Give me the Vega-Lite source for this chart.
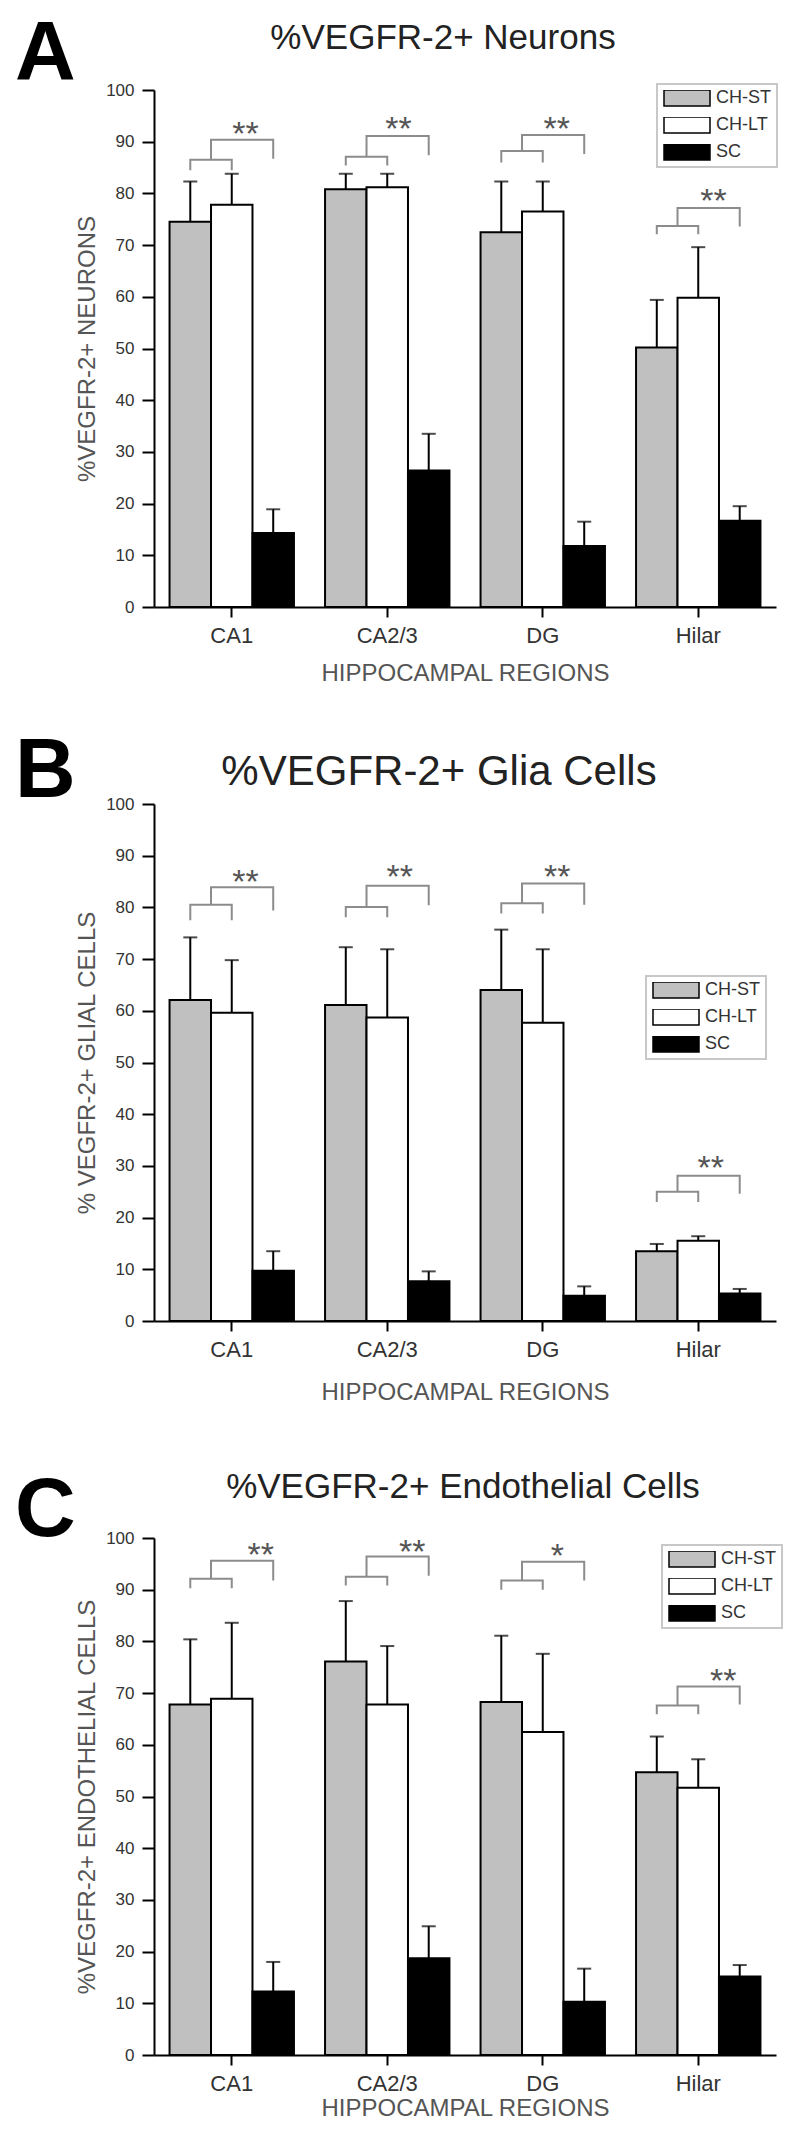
{
  "$schema": "https://vega.github.io/schema/vega-lite/v6.json",
  "background": "white",
  "padding": {"left": 14, "top": 13, "right": 5, "bottom": 5},
  "config": {
    "font": "Liberation Sans",
    "view": {"stroke": null},
    "axis": {"domainColor": "#000", "domainWidth": 2, "tickColor": "#000", "tickWidth": 2, "labelColor": "#333", "titleColor": "#555", "titleFontWeight": "normal", "grid": false},
    "legend": {"strokeColor": "#c8c8c8", "strokeWidth": 2, "padding": 6},
    "title": {"fontWeight": "normal", "color": "#222"}
  },
  "datasets": {
    "bars": [
      {"panel": "A", "region": "CA1", "group": "CH-ST", "value": 74.5, "err": 82.3},
      {"panel": "A", "region": "CA1", "group": "CH-LT", "value": 77.8, "err": 83.8},
      {"panel": "A", "region": "CA1", "group": "SC", "value": 14.3, "err": 18.9},
      {"panel": "A", "region": "CA2/3", "group": "CH-ST", "value": 80.8, "err": 83.8},
      {"panel": "A", "region": "CA2/3", "group": "CH-LT", "value": 81.2, "err": 83.8},
      {"panel": "A", "region": "CA2/3", "group": "SC", "value": 26.4, "err": 33.5},
      {"panel": "A", "region": "DG", "group": "CH-ST", "value": 72.5, "err": 82.3},
      {"panel": "A", "region": "DG", "group": "CH-LT", "value": 76.5, "err": 82.3},
      {"panel": "A", "region": "DG", "group": "SC", "value": 11.8, "err": 16.5},
      {"panel": "A", "region": "Hilar", "group": "CH-ST", "value": 50.2, "err": 59.4},
      {"panel": "A", "region": "Hilar", "group": "CH-LT", "value": 59.8, "err": 69.6},
      {"panel": "A", "region": "Hilar", "group": "SC", "value": 16.7, "err": 19.5},
      {"panel": "B", "region": "CA1", "group": "CH-ST", "value": 62.1, "err": 74.2},
      {"panel": "B", "region": "CA1", "group": "CH-LT", "value": 59.6, "err": 69.8},
      {"panel": "B", "region": "CA1", "group": "SC", "value": 9.7, "err": 13.5},
      {"panel": "B", "region": "CA2/3", "group": "CH-ST", "value": 61.1, "err": 72.3},
      {"panel": "B", "region": "CA2/3", "group": "CH-LT", "value": 58.7, "err": 71.9},
      {"panel": "B", "region": "CA2/3", "group": "SC", "value": 7.7, "err": 9.6},
      {"panel": "B", "region": "DG", "group": "CH-ST", "value": 64.0, "err": 75.7},
      {"panel": "B", "region": "DG", "group": "CH-LT", "value": 57.7, "err": 71.9},
      {"panel": "B", "region": "DG", "group": "SC", "value": 4.9, "err": 6.7},
      {"panel": "B", "region": "Hilar", "group": "CH-ST", "value": 13.5, "err": 14.9},
      {"panel": "B", "region": "Hilar", "group": "CH-LT", "value": 15.5, "err": 16.4},
      {"panel": "B", "region": "Hilar", "group": "SC", "value": 5.3, "err": 6.2},
      {"panel": "C", "region": "CA1", "group": "CH-ST", "value": 67.8, "err": 80.4},
      {"panel": "C", "region": "CA1", "group": "CH-LT", "value": 68.9, "err": 83.6},
      {"panel": "C", "region": "CA1", "group": "SC", "value": 12.3, "err": 18.0},
      {"panel": "C", "region": "CA2/3", "group": "CH-ST", "value": 76.1, "err": 87.8},
      {"panel": "C", "region": "CA2/3", "group": "CH-LT", "value": 67.8, "err": 79.1},
      {"panel": "C", "region": "CA2/3", "group": "SC", "value": 18.7, "err": 24.9},
      {"panel": "C", "region": "DG", "group": "CH-ST", "value": 68.3, "err": 81.1},
      {"panel": "C", "region": "DG", "group": "CH-LT", "value": 62.5, "err": 77.6},
      {"panel": "C", "region": "DG", "group": "SC", "value": 10.3, "err": 16.7},
      {"panel": "C", "region": "Hilar", "group": "CH-ST", "value": 54.7, "err": 61.6},
      {"panel": "C", "region": "Hilar", "group": "CH-LT", "value": 51.7, "err": 57.2},
      {"panel": "C", "region": "Hilar", "group": "SC", "value": 15.2, "err": 17.4}
    ],
    "brackets": [
      {"panel": "A", "region": "CA1", "part": "s", "ord": 1, "slot": 0.5, "y": 84.5},
      {"panel": "A", "region": "CA1", "part": "s", "ord": 2, "slot": 0.5, "y": 86.5},
      {"panel": "A", "region": "CA1", "part": "s", "ord": 3, "slot": 1.5, "y": 86.5},
      {"panel": "A", "region": "CA1", "part": "s", "ord": 4, "slot": 1.5, "y": 84.5},
      {"panel": "A", "region": "CA1", "part": "b", "ord": 1, "slot": 1.0, "y": 86.5},
      {"panel": "A", "region": "CA1", "part": "b", "ord": 2, "slot": 1.0, "y": 90.4},
      {"panel": "A", "region": "CA1", "part": "b", "ord": 3, "slot": 2.5, "y": 90.4},
      {"panel": "A", "region": "CA1", "part": "b", "ord": 4, "slot": 2.5, "y": 86.7},
      {"panel": "A", "region": "CA2/3", "part": "s", "ord": 1, "slot": 0.5, "y": 85.4},
      {"panel": "A", "region": "CA2/3", "part": "s", "ord": 2, "slot": 0.5, "y": 87.1},
      {"panel": "A", "region": "CA2/3", "part": "s", "ord": 3, "slot": 1.5, "y": 87.1},
      {"panel": "A", "region": "CA2/3", "part": "s", "ord": 4, "slot": 1.5, "y": 85.4},
      {"panel": "A", "region": "CA2/3", "part": "b", "ord": 1, "slot": 1.0, "y": 87.1},
      {"panel": "A", "region": "CA2/3", "part": "b", "ord": 2, "slot": 1.0, "y": 91.1},
      {"panel": "A", "region": "CA2/3", "part": "b", "ord": 3, "slot": 2.5, "y": 91.1},
      {"panel": "A", "region": "CA2/3", "part": "b", "ord": 4, "slot": 2.5, "y": 87.4},
      {"panel": "A", "region": "DG", "part": "s", "ord": 1, "slot": 0.5, "y": 86.0},
      {"panel": "A", "region": "DG", "part": "s", "ord": 2, "slot": 0.5, "y": 88.2},
      {"panel": "A", "region": "DG", "part": "s", "ord": 3, "slot": 1.5, "y": 88.2},
      {"panel": "A", "region": "DG", "part": "s", "ord": 4, "slot": 1.5, "y": 86.0},
      {"panel": "A", "region": "DG", "part": "b", "ord": 1, "slot": 1.0, "y": 88.2},
      {"panel": "A", "region": "DG", "part": "b", "ord": 2, "slot": 1.0, "y": 91.3},
      {"panel": "A", "region": "DG", "part": "b", "ord": 3, "slot": 2.5, "y": 91.3},
      {"panel": "A", "region": "DG", "part": "b", "ord": 4, "slot": 2.5, "y": 87.6},
      {"panel": "A", "region": "Hilar", "part": "s", "ord": 1, "slot": 0.5, "y": 72.1},
      {"panel": "A", "region": "Hilar", "part": "s", "ord": 2, "slot": 0.5, "y": 73.7},
      {"panel": "A", "region": "Hilar", "part": "s", "ord": 3, "slot": 1.5, "y": 73.7},
      {"panel": "A", "region": "Hilar", "part": "s", "ord": 4, "slot": 1.5, "y": 72.1},
      {"panel": "A", "region": "Hilar", "part": "b", "ord": 1, "slot": 1.0, "y": 73.7},
      {"panel": "A", "region": "Hilar", "part": "b", "ord": 2, "slot": 1.0, "y": 77.2},
      {"panel": "A", "region": "Hilar", "part": "b", "ord": 3, "slot": 2.5, "y": 77.2},
      {"panel": "A", "region": "Hilar", "part": "b", "ord": 4, "slot": 2.5, "y": 73.6},
      {"panel": "B", "region": "CA1", "part": "s", "ord": 1, "slot": 0.5, "y": 77.5},
      {"panel": "B", "region": "CA1", "part": "s", "ord": 2, "slot": 0.5, "y": 80.5},
      {"panel": "B", "region": "CA1", "part": "s", "ord": 3, "slot": 1.5, "y": 80.5},
      {"panel": "B", "region": "CA1", "part": "s", "ord": 4, "slot": 1.5, "y": 77.5},
      {"panel": "B", "region": "CA1", "part": "b", "ord": 1, "slot": 1.0, "y": 80.5},
      {"panel": "B", "region": "CA1", "part": "b", "ord": 2, "slot": 1.0, "y": 83.9},
      {"panel": "B", "region": "CA1", "part": "b", "ord": 3, "slot": 2.5, "y": 83.9},
      {"panel": "B", "region": "CA1", "part": "b", "ord": 4, "slot": 2.5, "y": 79.4},
      {"panel": "B", "region": "CA2/3", "part": "s", "ord": 1, "slot": 0.5, "y": 78.1},
      {"panel": "B", "region": "CA2/3", "part": "s", "ord": 2, "slot": 0.5, "y": 80.1},
      {"panel": "B", "region": "CA2/3", "part": "s", "ord": 3, "slot": 1.5, "y": 80.1},
      {"panel": "B", "region": "CA2/3", "part": "s", "ord": 4, "slot": 1.5, "y": 78.1},
      {"panel": "B", "region": "CA2/3", "part": "b", "ord": 1, "slot": 1.0, "y": 80.1},
      {"panel": "B", "region": "CA2/3", "part": "b", "ord": 2, "slot": 1.0, "y": 84.2},
      {"panel": "B", "region": "CA2/3", "part": "b", "ord": 3, "slot": 2.5, "y": 84.2},
      {"panel": "B", "region": "CA2/3", "part": "b", "ord": 4, "slot": 2.5, "y": 80.4},
      {"panel": "B", "region": "DG", "part": "s", "ord": 1, "slot": 0.5, "y": 78.8},
      {"panel": "B", "region": "DG", "part": "s", "ord": 2, "slot": 0.5, "y": 80.8},
      {"panel": "B", "region": "DG", "part": "s", "ord": 3, "slot": 1.5, "y": 80.8},
      {"panel": "B", "region": "DG", "part": "s", "ord": 4, "slot": 1.5, "y": 78.8},
      {"panel": "B", "region": "DG", "part": "b", "ord": 1, "slot": 1.0, "y": 80.8},
      {"panel": "B", "region": "DG", "part": "b", "ord": 2, "slot": 1.0, "y": 84.6},
      {"panel": "B", "region": "DG", "part": "b", "ord": 3, "slot": 2.5, "y": 84.6},
      {"panel": "B", "region": "DG", "part": "b", "ord": 4, "slot": 2.5, "y": 80.5},
      {"panel": "B", "region": "Hilar", "part": "s", "ord": 1, "slot": 0.5, "y": 23.0},
      {"panel": "B", "region": "Hilar", "part": "s", "ord": 2, "slot": 0.5, "y": 25.0},
      {"panel": "B", "region": "Hilar", "part": "s", "ord": 3, "slot": 1.5, "y": 25.0},
      {"panel": "B", "region": "Hilar", "part": "s", "ord": 4, "slot": 1.5, "y": 23.0},
      {"panel": "B", "region": "Hilar", "part": "b", "ord": 1, "slot": 1.0, "y": 25.0},
      {"panel": "B", "region": "Hilar", "part": "b", "ord": 2, "slot": 1.0, "y": 28.1},
      {"panel": "B", "region": "Hilar", "part": "b", "ord": 3, "slot": 2.5, "y": 28.1},
      {"panel": "B", "region": "Hilar", "part": "b", "ord": 4, "slot": 2.5, "y": 24.6},
      {"panel": "C", "region": "CA1", "part": "s", "ord": 1, "slot": 0.5, "y": 90.3},
      {"panel": "C", "region": "CA1", "part": "s", "ord": 2, "slot": 0.5, "y": 92.1},
      {"panel": "C", "region": "CA1", "part": "s", "ord": 3, "slot": 1.5, "y": 92.1},
      {"panel": "C", "region": "CA1", "part": "s", "ord": 4, "slot": 1.5, "y": 90.3},
      {"panel": "C", "region": "CA1", "part": "b", "ord": 1, "slot": 1.0, "y": 92.1},
      {"panel": "C", "region": "CA1", "part": "b", "ord": 2, "slot": 1.0, "y": 95.6},
      {"panel": "C", "region": "CA1", "part": "b", "ord": 3, "slot": 2.5, "y": 95.6},
      {"panel": "C", "region": "CA1", "part": "b", "ord": 4, "slot": 2.5, "y": 91.8},
      {"panel": "C", "region": "CA2/3", "part": "s", "ord": 1, "slot": 0.5, "y": 90.8},
      {"panel": "C", "region": "CA2/3", "part": "s", "ord": 2, "slot": 0.5, "y": 92.5},
      {"panel": "C", "region": "CA2/3", "part": "s", "ord": 3, "slot": 1.5, "y": 92.5},
      {"panel": "C", "region": "CA2/3", "part": "s", "ord": 4, "slot": 1.5, "y": 90.8},
      {"panel": "C", "region": "CA2/3", "part": "b", "ord": 1, "slot": 1.0, "y": 92.5},
      {"panel": "C", "region": "CA2/3", "part": "b", "ord": 2, "slot": 1.0, "y": 96.4},
      {"panel": "C", "region": "CA2/3", "part": "b", "ord": 3, "slot": 2.5, "y": 96.4},
      {"panel": "C", "region": "CA2/3", "part": "b", "ord": 4, "slot": 2.5, "y": 92.7},
      {"panel": "C", "region": "DG", "part": "s", "ord": 1, "slot": 0.5, "y": 90.0},
      {"panel": "C", "region": "DG", "part": "s", "ord": 2, "slot": 0.5, "y": 91.8},
      {"panel": "C", "region": "DG", "part": "s", "ord": 3, "slot": 1.5, "y": 91.8},
      {"panel": "C", "region": "DG", "part": "s", "ord": 4, "slot": 1.5, "y": 90.0},
      {"panel": "C", "region": "DG", "part": "b", "ord": 1, "slot": 1.0, "y": 91.8},
      {"panel": "C", "region": "DG", "part": "b", "ord": 2, "slot": 1.0, "y": 95.4},
      {"panel": "C", "region": "DG", "part": "b", "ord": 3, "slot": 2.5, "y": 95.4},
      {"panel": "C", "region": "DG", "part": "b", "ord": 4, "slot": 2.5, "y": 91.8},
      {"panel": "C", "region": "Hilar", "part": "s", "ord": 1, "slot": 0.5, "y": 65.9},
      {"panel": "C", "region": "Hilar", "part": "s", "ord": 2, "slot": 0.5, "y": 67.6},
      {"panel": "C", "region": "Hilar", "part": "s", "ord": 3, "slot": 1.5, "y": 67.6},
      {"panel": "C", "region": "Hilar", "part": "s", "ord": 4, "slot": 1.5, "y": 65.9},
      {"panel": "C", "region": "Hilar", "part": "b", "ord": 1, "slot": 1.0, "y": 67.6},
      {"panel": "C", "region": "Hilar", "part": "b", "ord": 2, "slot": 1.0, "y": 71.3},
      {"panel": "C", "region": "Hilar", "part": "b", "ord": 3, "slot": 2.5, "y": 71.3},
      {"panel": "C", "region": "Hilar", "part": "b", "ord": 4, "slot": 2.5, "y": 67.8}
    ],
    "stars": [
      {"panel": "A", "region": "CA1", "slot": 1.83, "y": 93.3, "label": "**"},
      {"panel": "A", "region": "CA2/3", "slot": 1.77, "y": 94.2, "label": "**"},
      {"panel": "A", "region": "DG", "slot": 1.84, "y": 94.2, "label": "**"},
      {"panel": "A", "region": "Hilar", "slot": 1.87, "y": 80.2, "label": "**"},
      {"panel": "B", "region": "CA1", "slot": 1.83, "y": 86.7, "label": "**"},
      {"panel": "B", "region": "CA2/3", "slot": 1.8, "y": 87.6, "label": "**"},
      {"panel": "B", "region": "DG", "slot": 1.85, "y": 87.6, "label": "**"},
      {"panel": "B", "region": "Hilar", "slot": 1.8, "y": 31.4, "label": "**"},
      {"panel": "C", "region": "CA1", "slot": 2.2, "y": 98.5, "label": "**"},
      {"panel": "C", "region": "CA2/3", "slot": 2.1, "y": 99.0, "label": "**"},
      {"panel": "C", "region": "DG", "slot": 1.85, "y": 98.3, "label": "*"},
      {"panel": "C", "region": "Hilar", "slot": 2.1, "y": 74.0, "label": "**"}
    ]
  },
  "spacing": 45,
  "resolve": {"scale": {"fill": "independent"}, "legend": {"fill": "independent"}},
  "vconcat": [
    {
      "title": {"text": "A", "orient": "left", "anchor": "end", "angle": 0, "align": "left", "baseline": "top", "dy": -7, "fontSize": 84, "fontWeight": "bold", "color": "#000", "offset": 0},
      "vconcat": [
        {
          "width": 622, "height": 517,
          "title": {"text": "%VEGFR-2+ Neurons", "fontSize": 35, "frame": "group", "anchor": "middle", "baseline": "alphabetic", "offset": -3, "dx": -22},
          "resolve": {"scale": {"xOffset": "independent"}},
          "layer": [
            {
              "data": {"name": "bars"},
              "transform": [{"filter": "datum.panel === 'A'"}],
              "mark": {"type": "bar", "stroke": "#000", "strokeWidth": 2},
              "encoding": {
                "x": {"field": "region", "type": "nominal", "sort": ["CA1", "CA2/3", "DG", "Hilar"], "scale": {"paddingInner": 0.2, "paddingOuter": 0.1}, "title": "HIPPOCAMPAL REGIONS", "axis": {"labelAngle": 0, "labelFontSize": 22, "titleFontSize": 24, "tickSize": 10, "labelPadding": 8, "titlePadding": 15}},
                "xOffset": {"field": "group", "type": "nominal", "sort": ["CH-ST", "CH-LT", "SC"], "scale": {"paddingInner": 0, "paddingOuter": 0}},
                "y": {"field": "value", "type": "quantitative", "scale": {"domain": [0, 100], "nice": false}, "title": "%VEGFR-2+ NEURONS", "axis": {"values": [0,5,10,15,20,25,30,35,40,45,50,55,60,65,70,75,80,85,90,95,100], "labelExpr": "datum.value % 10 === 0 ? datum.label : ''", "tickSize": {"condition": {"test": "datum.value % 10 !== 0", "value": 6}, "value": 12}, "labelFontSize": 17, "labelPadding": 8, "titleFontSize": 24, "titlePadding": 6}},
                "fill": {"field": "group", "type": "nominal", "scale": {"domain": ["CH-ST", "CH-LT", "SC"], "range": ["#c0c0c0", "#ffffff", "#000000"]}, "legend": {"title": null, "orient": "none", "legendX": 503, "legendY": -6, "symbolType": "M-1,-0.35H1V0.35H-1Z", "symbolSize": 2116, "symbolStrokeColor": "#000", "symbolStrokeWidth": 1.5, "symbolOpacity": 1, "clipHeight": 16, "rowPadding": 9, "labelFontSize": 18, "labelColor": "#333", "labelOffset": 5}}
              }
            },
            {
              "data": {"name": "bars"},
              "transform": [{"filter": "datum.panel === 'A'"}],
              "mark": {"type": "rule", "color": "#000", "strokeWidth": 2},
              "encoding": {
                "x": {"field": "region", "type": "nominal", "sort": ["CA1", "CA2/3", "DG", "Hilar"]},
                "xOffset": {"field": "group", "type": "nominal", "sort": ["CH-ST", "CH-LT", "SC"], "scale": {"paddingInner": 0, "paddingOuter": 0}},
                "y": {"field": "value", "type": "quantitative"},
                "y2": {"field": "err"}
              }
            },
            {
              "data": {"name": "bars"},
              "transform": [{"filter": "datum.panel === 'A'"}],
              "mark": {"type": "tick", "color": "#000", "thickness": 2, "size": 14, "orient": "horizontal"},
              "encoding": {
                "x": {"field": "region", "type": "nominal", "sort": ["CA1", "CA2/3", "DG", "Hilar"]},
                "xOffset": {"field": "group", "type": "nominal", "sort": ["CH-ST", "CH-LT", "SC"], "scale": {"paddingInner": 0, "paddingOuter": 0}},
                "y": {"field": "err", "type": "quantitative"}
              }
            },
            {
              "data": {"name": "brackets"},
              "transform": [{"filter": "datum.panel === 'A'"}],
              "mark": {"type": "line", "color": "#8c8c8c", "strokeWidth": 2},
              "encoding": {
                "x": {"field": "region", "type": "nominal", "sort": ["CA1", "CA2/3", "DG", "Hilar"]},
                "xOffset": {"field": "slot", "type": "quantitative", "scale": {"domain": [0, 3], "zero": false, "nice": false}},
                "y": {"field": "y", "type": "quantitative"},
                "detail": [{"field": "region"}, {"field": "part"}],
                "order": {"field": "ord", "type": "quantitative"}
              }
            },
            {
              "data": {"name": "stars"},
              "transform": [{"filter": "datum.panel === 'A'"}],
              "mark": {"type": "text", "fontSize": 34, "color": "#555", "baseline": "middle", "dy": 10},
              "encoding": {
                "x": {"field": "region", "type": "nominal", "sort": ["CA1", "CA2/3", "DG", "Hilar"]},
                "xOffset": {"field": "slot", "type": "quantitative", "scale": {"domain": [0, 3], "zero": false, "nice": false}},
                "y": {"field": "y", "type": "quantitative"},
                "text": {"field": "label"}
              }
            }
          ]
        }
      ]
    },
    {
      "title": {"text": "B", "orient": "left", "anchor": "end", "angle": 0, "align": "left", "baseline": "top", "dy": -20, "fontSize": 84, "fontWeight": "bold", "color": "#000", "offset": 0},
      "vconcat": [
        {
          "width": 622, "height": 517,
          "title": {"text": "%VEGFR-2+ Glia Cells", "fontSize": 42, "frame": "group", "anchor": "middle", "baseline": "alphabetic", "offset": -32, "dx": -26},
          "resolve": {"scale": {"xOffset": "independent"}},
          "layer": [
            {
              "data": {"name": "bars"},
              "transform": [{"filter": "datum.panel === 'B'"}],
              "mark": {"type": "bar", "stroke": "#000", "strokeWidth": 2},
              "encoding": {
                "x": {"field": "region", "type": "nominal", "sort": ["CA1", "CA2/3", "DG", "Hilar"], "scale": {"paddingInner": 0.2, "paddingOuter": 0.1}, "title": "HIPPOCAMPAL REGIONS", "axis": {"labelAngle": 0, "labelFontSize": 22, "titleFontSize": 24, "tickSize": 10, "labelPadding": 8, "titlePadding": 20}},
                "xOffset": {"field": "group", "type": "nominal", "sort": ["CH-ST", "CH-LT", "SC"], "scale": {"paddingInner": 0, "paddingOuter": 0}},
                "y": {"field": "value", "type": "quantitative", "scale": {"domain": [0, 100], "nice": false}, "title": "% VEGFR-2+ GLIAL CELLS", "axis": {"values": [0,5,10,15,20,25,30,35,40,45,50,55,60,65,70,75,80,85,90,95,100], "labelExpr": "datum.value % 10 === 0 ? datum.label : ''", "tickSize": {"condition": {"test": "datum.value % 10 !== 0", "value": 6}, "value": 12}, "labelFontSize": 17, "labelPadding": 8, "titleFontSize": 24, "titlePadding": 6}},
                "fill": {"field": "group", "type": "nominal", "scale": {"domain": ["CH-ST", "CH-LT", "SC"], "range": ["#c0c0c0", "#ffffff", "#000000"]}, "legend": {"title": null, "orient": "none", "legendX": 492, "legendY": 172, "symbolType": "M-1,-0.35H1V0.35H-1Z", "symbolSize": 2116, "symbolStrokeColor": "#000", "symbolStrokeWidth": 1.5, "symbolOpacity": 1, "clipHeight": 16, "rowPadding": 9, "labelFontSize": 18, "labelColor": "#333", "labelOffset": 5}}
              }
            },
            {
              "data": {"name": "bars"},
              "transform": [{"filter": "datum.panel === 'B'"}],
              "mark": {"type": "rule", "color": "#000", "strokeWidth": 2},
              "encoding": {
                "x": {"field": "region", "type": "nominal", "sort": ["CA1", "CA2/3", "DG", "Hilar"]},
                "xOffset": {"field": "group", "type": "nominal", "sort": ["CH-ST", "CH-LT", "SC"], "scale": {"paddingInner": 0, "paddingOuter": 0}},
                "y": {"field": "value", "type": "quantitative"},
                "y2": {"field": "err"}
              }
            },
            {
              "data": {"name": "bars"},
              "transform": [{"filter": "datum.panel === 'B'"}],
              "mark": {"type": "tick", "color": "#000", "thickness": 2, "size": 14, "orient": "horizontal"},
              "encoding": {
                "x": {"field": "region", "type": "nominal", "sort": ["CA1", "CA2/3", "DG", "Hilar"]},
                "xOffset": {"field": "group", "type": "nominal", "sort": ["CH-ST", "CH-LT", "SC"], "scale": {"paddingInner": 0, "paddingOuter": 0}},
                "y": {"field": "err", "type": "quantitative"}
              }
            },
            {
              "data": {"name": "brackets"},
              "transform": [{"filter": "datum.panel === 'B'"}],
              "mark": {"type": "line", "color": "#8c8c8c", "strokeWidth": 2},
              "encoding": {
                "x": {"field": "region", "type": "nominal", "sort": ["CA1", "CA2/3", "DG", "Hilar"]},
                "xOffset": {"field": "slot", "type": "quantitative", "scale": {"domain": [0, 3], "zero": false, "nice": false}},
                "y": {"field": "y", "type": "quantitative"},
                "detail": [{"field": "region"}, {"field": "part"}],
                "order": {"field": "ord", "type": "quantitative"}
              }
            },
            {
              "data": {"name": "stars"},
              "transform": [{"filter": "datum.panel === 'B'"}],
              "mark": {"type": "text", "fontSize": 34, "color": "#555", "baseline": "middle", "dy": 10},
              "encoding": {
                "x": {"field": "region", "type": "nominal", "sort": ["CA1", "CA2/3", "DG", "Hilar"]},
                "xOffset": {"field": "slot", "type": "quantitative", "scale": {"domain": [0, 3], "zero": false, "nice": false}},
                "y": {"field": "y", "type": "quantitative"},
                "text": {"field": "label"}
              }
            }
          ]
        }
      ]
    },
    {
      "title": {"text": ["", "C"], "lineHeight": 20, "orient": "left", "anchor": "end", "angle": 0, "align": "left", "baseline": "top", "dy": -20, "fontSize": 84, "fontWeight": "bold", "color": "#000", "offset": 0},
      "vconcat": [
        {
          "width": 622, "height": 517,
          "title": {"text": "%VEGFR-2+ Endothelial Cells", "fontSize": 35, "frame": "group", "anchor": "middle", "baseline": "alphabetic", "offset": -4, "dx": -2},
          "resolve": {"scale": {"xOffset": "independent"}},
          "layer": [
            {
              "data": {"name": "bars"},
              "transform": [{"filter": "datum.panel === 'C'"}],
              "mark": {"type": "bar", "stroke": "#000", "strokeWidth": 2},
              "encoding": {
                "x": {"field": "region", "type": "nominal", "sort": ["CA1", "CA2/3", "DG", "Hilar"], "scale": {"paddingInner": 0.2, "paddingOuter": 0.1}, "title": "HIPPOCAMPAL REGIONS", "axis": {"labelAngle": 0, "labelFontSize": 22, "titleFontSize": 24, "tickSize": 10, "labelPadding": 8, "titlePadding": 2}},
                "xOffset": {"field": "group", "type": "nominal", "sort": ["CH-ST", "CH-LT", "SC"], "scale": {"paddingInner": 0, "paddingOuter": 0}},
                "y": {"field": "value", "type": "quantitative", "scale": {"domain": [0, 100], "nice": false}, "title": "%VEGFR-2+ ENDOTHELIAL CELLS", "axis": {"values": [0,5,10,15,20,25,30,35,40,45,50,55,60,65,70,75,80,85,90,95,100], "labelExpr": "datum.value % 10 === 0 ? datum.label : ''", "tickSize": {"condition": {"test": "datum.value % 10 !== 0", "value": 6}, "value": 12}, "labelFontSize": 17, "labelPadding": 8, "titleFontSize": 24, "titlePadding": 6}},
                "fill": {"field": "group", "type": "nominal", "scale": {"domain": ["CH-ST", "CH-LT", "SC"], "range": ["#c0c0c0", "#ffffff", "#000000"]}, "legend": {"title": null, "orient": "none", "legendX": 508, "legendY": 7, "symbolType": "M-1,-0.35H1V0.35H-1Z", "symbolSize": 2116, "symbolStrokeColor": "#000", "symbolStrokeWidth": 1.5, "symbolOpacity": 1, "clipHeight": 16, "rowPadding": 9, "labelFontSize": 18, "labelColor": "#333", "labelOffset": 5}}
              }
            },
            {
              "data": {"name": "bars"},
              "transform": [{"filter": "datum.panel === 'C'"}],
              "mark": {"type": "rule", "color": "#000", "strokeWidth": 2},
              "encoding": {
                "x": {"field": "region", "type": "nominal", "sort": ["CA1", "CA2/3", "DG", "Hilar"]},
                "xOffset": {"field": "group", "type": "nominal", "sort": ["CH-ST", "CH-LT", "SC"], "scale": {"paddingInner": 0, "paddingOuter": 0}},
                "y": {"field": "value", "type": "quantitative"},
                "y2": {"field": "err"}
              }
            },
            {
              "data": {"name": "bars"},
              "transform": [{"filter": "datum.panel === 'C'"}],
              "mark": {"type": "tick", "color": "#000", "thickness": 2, "size": 14, "orient": "horizontal"},
              "encoding": {
                "x": {"field": "region", "type": "nominal", "sort": ["CA1", "CA2/3", "DG", "Hilar"]},
                "xOffset": {"field": "group", "type": "nominal", "sort": ["CH-ST", "CH-LT", "SC"], "scale": {"paddingInner": 0, "paddingOuter": 0}},
                "y": {"field": "err", "type": "quantitative"}
              }
            },
            {
              "data": {"name": "brackets"},
              "transform": [{"filter": "datum.panel === 'C'"}],
              "mark": {"type": "line", "color": "#8c8c8c", "strokeWidth": 2},
              "encoding": {
                "x": {"field": "region", "type": "nominal", "sort": ["CA1", "CA2/3", "DG", "Hilar"]},
                "xOffset": {"field": "slot", "type": "quantitative", "scale": {"domain": [0, 3], "zero": false, "nice": false}},
                "y": {"field": "y", "type": "quantitative"},
                "detail": [{"field": "region"}, {"field": "part"}],
                "order": {"field": "ord", "type": "quantitative"}
              }
            },
            {
              "data": {"name": "stars"},
              "transform": [{"filter": "datum.panel === 'C'"}],
              "mark": {"type": "text", "fontSize": 34, "color": "#555", "baseline": "middle", "dy": 10},
              "encoding": {
                "x": {"field": "region", "type": "nominal", "sort": ["CA1", "CA2/3", "DG", "Hilar"]},
                "xOffset": {"field": "slot", "type": "quantitative", "scale": {"domain": [0, 3], "zero": false, "nice": false}},
                "y": {"field": "y", "type": "quantitative"},
                "text": {"field": "label"}
              }
            }
          ]
        }
      ]
    }
  ]
}
